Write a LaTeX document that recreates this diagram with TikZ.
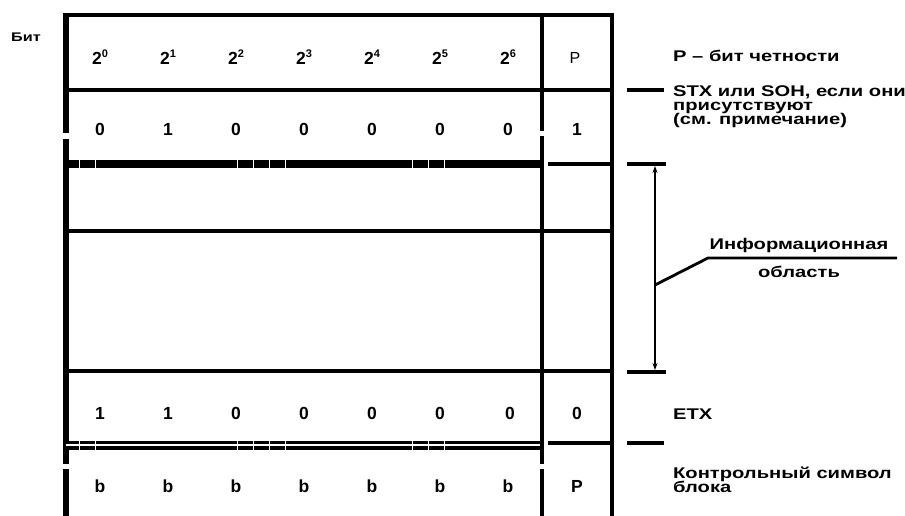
\documentclass[tikz,border=0pt]{standalone}
\usepackage{fontspec}
\setmainfont{Liberation Sans}
\newfontfamily\lblfamily{Liberation Sans}[FakeStretch=1.3]
\usetikzlibrary{arrows.meta}
\newcommand{\pw}[1]{2\raisebox{7pt}{\fontsize{11}{11}\selectfont #1}}
\begin{document}
\begin{tikzpicture}[x=1pt,y=-1pt,
  cell/.style={font=\bfseries\fontsize{17.5}{17.5}\selectfont, inner sep=0pt, anchor=base},
  lbl/.style={font=\lblfamily\bfseries\fontsize{15.5}{15.5}\selectfont, inner sep=0pt, anchor=base west},
  lblc/.style={lbl, anchor=base},
  rule/.style={line width=4pt},
  thin/.style={line width=3.4pt},
  tick/.style={white, line width=0.9pt}]
\useasboundingbox (0,0) rectangle (905,516);
% frame
\draw[rule] (63,15) -- (614,15);
\draw[line width=6pt] (66,13) -- (66,133) (66,139) -- (66,464) (66,469) -- (66,520);
\draw[rule] (542,13) -- (542,131) (542,136) -- (542,464) (542,469) -- (542,520);
\draw[rule] (612,13) -- (612,520);
% row separators
\draw[rule] (66,90) -- (612,90);
\draw[line width=8pt] (66,164) -- (540,164);
\draw[rule] (548,164) -- (612,164);
\draw[thin] (66,231) -- (612,231);
\draw[rule] (66,371) -- (612,371);
\draw[double=white, double distance=2pt, line width=3.5pt] (66,445) -- (540,445);
\draw[rule] (548,443) -- (612,443);
\foreach \x in {79,95,237,253,269,285,412,428,444}{
  \draw[tick] (\x,159) -- (\x,169);
  \draw[tick] (\x,440) -- (\x,450);
}
% header
\node[font=\lblfamily\bfseries\fontsize{12.5}{12.5}\selectfont, inner sep=0pt, anchor=base west] (bit) at (11,42) {Бит};
\node[cell] (h0) at (100,65) {\pw{0}};
\node[cell] (h1) at (168,65) {\pw{1}};
\node[cell] (h2) at (236,65) {\pw{2}};
\node[cell] (h3) at (304,65) {\pw{3}};
\node[cell] (h4) at (372,65) {\pw{4}};
\node[cell] (h5) at (440,65) {\pw{5}};
\node[cell] (h6) at (508,65) {\pw{6}};
\node[cell, font=\fontsize{16}{16}\selectfont] (hp) at (575,64) {P};
% row STX/SOH
\node[cell] (a0) at (100,136) {0};
\node[cell] (a1) at (168,136) {1};
\node[cell] (a2) at (236,136) {0};
\node[cell] (a3) at (304,136) {0};
\node[cell] (a4) at (372,136) {0};
\node[cell] (a5) at (440,136) {0};
\node[cell] (a6) at (508,136) {0};
\node[cell] (ap) at (577,136) {1};
% row ETX
\node[cell] (e0) at (100,419) {1};
\node[cell] (e1) at (168,419) {1};
\node[cell] (e2) at (236,419) {0};
\node[cell] (e3) at (304,419) {0};
\node[cell] (e4) at (372,419) {0};
\node[cell] (e5) at (440,419) {0};
\node[cell] (e6) at (510,419) {0};
\node[cell] (ep) at (577,419) {0};
% row BCC
\node[cell] (b0) at (100,492) {b};
\node[cell] (b1) at (168,492) {b};
\node[cell] (b2) at (236,492) {b};
\node[cell] (b3) at (304,492) {b};
\node[cell] (b4) at (372,492) {b};
\node[cell] (b5) at (440,492) {b};
\node[cell] (b6) at (508,492) {b};
\node[cell] (bp) at (577,492) {P};
% right side annotations
\node[lbl] (par) at (673,62) {P – бит четности};
\draw[thin] (627,90) -- (664,90);
\node[lbl] (stx1) at (673,97) {STX или SOH, если они};
\node[lbl] (stx2) at (673,111) {присутствуют};
\node[lbl] (stx3) at (673,125) {(см. примечание)};
\draw[thin] (627,164) -- (666,164);
\draw[thin] (627,372) -- (666,372);
\coordinate (dimtop) at (655,166);
\coordinate (dimbot) at (655,370);
\draw[line width=2.4pt, {Stealth[length=7pt,width=5pt]}-{Stealth[length=7pt,width=5pt]}] (dimtop) -- (dimbot);
\coordinate (lead) at (655,285);
\coordinate (knee) at (708,258);
\coordinate (leadend) at (897,258);
\draw[line width=2.8pt] (lead) -- (knee) -- (leadend);
\node[lblc] (info1) at (799,249) {Информационная};
\node[lblc] (info2) at (799,277) {область};
\node[lbl] (etx) at (673,419) {ETX};
\draw[thin] (627,443) -- (664,443);
\node[lbl] (bcc1) at (673,478) {Контрольный символ};
\node[lbl] (bcc2) at (673,492) {блока};
\end{tikzpicture}
\end{document}
